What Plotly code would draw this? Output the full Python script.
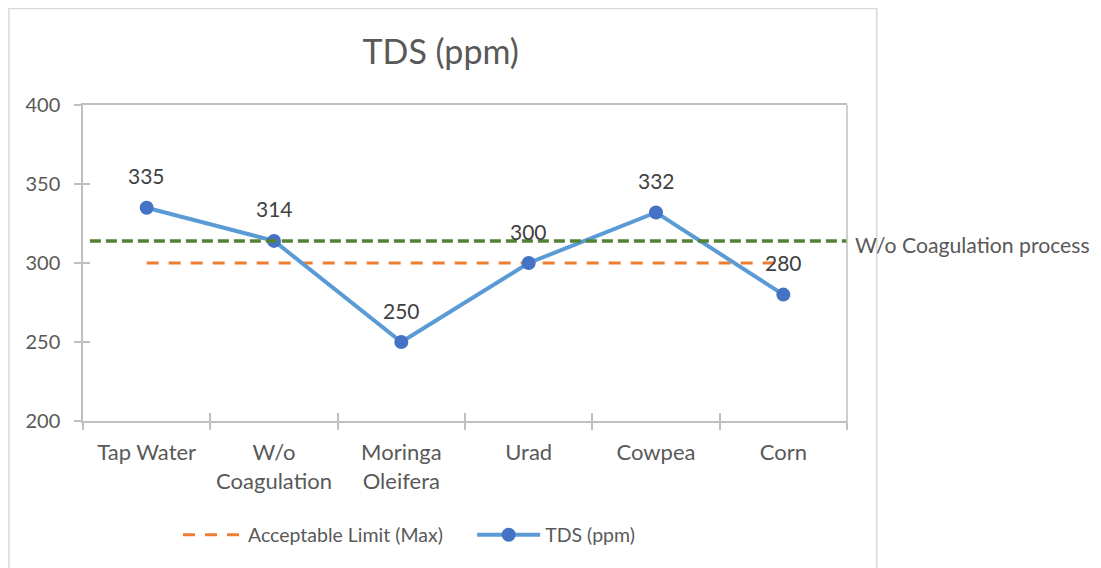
import plotly.graph_objects as go

categories = ["Tap Water", "W/o<br>Coagulation", "Moringa<br>Oleifera", "Urad", "Cowpea", "Corn"]
tds_values = [335, 314, 250, 300, 332, 280]
acceptable_limit = [300, 300, 300, 300, 300, 300]
wo_coag_value = 314
y_ticks = [200, 250, 300, 350, 400]

FONT = "Lato"
TXT = "#595959"
AX = "#BFBFBF"

fig = go.Figure()
fig.add_trace(go.Scatter(
    x=categories, y=acceptable_limit, mode="lines", name="Acceptable Limit (Max)",
    line=dict(color="#ED7D31", width=3, dash="12px,10px"), legend="legend",
))
fig.add_trace(go.Scatter(
    x=categories, y=tds_values, mode="lines+markers", name="TDS (ppm)",
    line=dict(color="#5B9BD5", width=4),
    marker=dict(color="#4472C4", size=14), legend="legend2",
))
# overlay axis for cross ticks
fig.add_trace(go.Scatter(x=categories, y=tds_values, xaxis="x2", yaxis="y2",
                         mode="markers", marker=dict(opacity=0), showlegend=False, hoverinfo="skip"))

for c, v in zip(categories, tds_values):
    fig.add_annotation(x=c, y=v, text=str(v), showarrow=False, yshift=32,
                       font=dict(family=FONT, size=21, color="#404040"))

fig.add_shape(type="line", xref="paper", yref="y", x0=0.009, x1=1.0,
              y0=wo_coag_value, y1=wo_coag_value,
              line=dict(color="#548235", width=3.5, dash="11px,5px"), layer="above")
fig.add_annotation(xref="paper", yref="y", x=1.0, y=wo_coag_value, xanchor="left",
                   xshift=6, yshift=-4, text="W/o Coagulation process", showarrow=False,
                   font=dict(family=FONT, size=21.2, color=TXT))

# chart frame
fig.add_shape(type="rect", xref="paper", yref="paper", x0=-0.097, x1=1.039, y0=-0.49, y1=1.305,
              line=dict(color="#D9D9D9", width=1.5), layer="below")
# right border line of plot area
fig.add_shape(type="line", xref="paper", yref="paper", x0=1, x1=1, y0=-0.022, y1=1,
              line=dict(color=AX, width=1.5))

leg_common = dict(orientation="h", yanchor="middle", xanchor="left", y=-0.361,
                  font=dict(family=FONT, size=19.5, color=TXT),
                  bgcolor="rgba(0,0,0,0)")

fig.update_layout(
    width=1101, height=568,
    margin=dict(l=75, r=262, t=97, b=155),
    paper_bgcolor="white", plot_bgcolor="white",
    title=dict(text="TDS (ppm)", x=0.393, xanchor="center", y=0.9225, yanchor="middle",
               font=dict(family=FONT, size=34, color=TXT)),
    font=dict(family=FONT, size=20, color=TXT),
    showlegend=True,
    legend=dict(x=0.1244, itemwidth=60, **leg_common),
    legend2=dict(x=0.5094, itemwidth=63, **leg_common),
    xaxis=dict(type="category", showgrid=False, showline=True, linecolor=AX, linewidth=1.5,
               ticks="outside", tickson="boundaries", ticklen=7, tickcolor=AX, tickwidth=1.5,
               ticklabelstandoff=11,
               tickfont=dict(family=FONT, size=22, color=TXT), mirror=True, range=[-0.5, 5.5]),
    yaxis=dict(range=[200, 400], tickvals=y_ticks, showgrid=False, showline=True, linecolor=AX,
               linewidth=1.5, ticks="outside", ticklen=7, tickcolor=AX, tickwidth=1.5,
               ticklabelstandoff=10,
               tickfont=dict(family=FONT, size=20, color=TXT), zeroline=False),
    xaxis2=dict(type="category", overlaying="x", range=[-0.5, 5.5], showticklabels=False,
                ticks="inside", tickson="boundaries", ticklen=8, tickcolor=AX, tickwidth=1.5,
                showgrid=False, showline=False, side="bottom"),
    yaxis2=dict(overlaying="y", range=[200, 400], tickvals=y_ticks, showticklabels=False,
                ticks="inside", ticklen=7, tickcolor=AX, tickwidth=1.5, showgrid=False,
                showline=False, zeroline=False, side="left"),
)

fig.write_html("out.html")
